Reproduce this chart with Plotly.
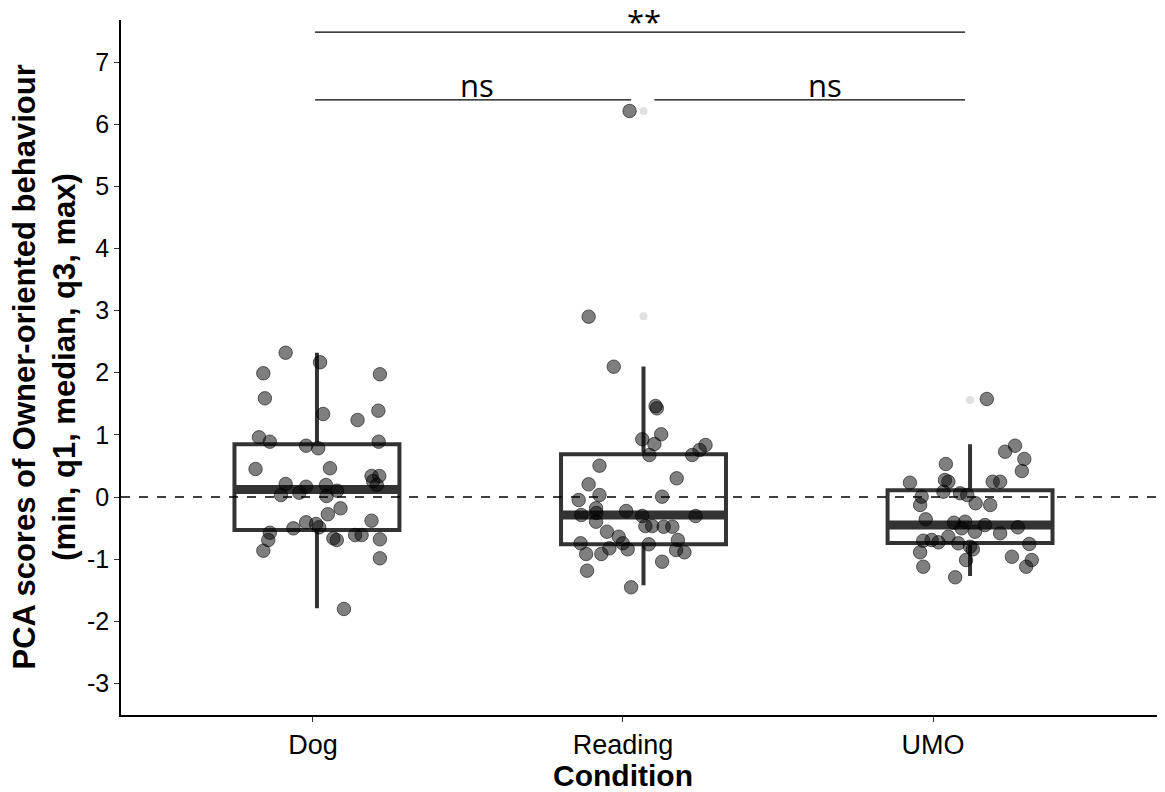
import plotly.graph_objects as go

# ---------------- data ----------------
categories = ["Dog", "Reading", "UMO"]
y_ticks = [-3, -2, -1, 0, 1, 2, 3, 4, 5, 6, 7]
y_ticktext = ["-3", "-2", "-1", "0", "1", "2", "3", "4", "5", "6", "7"]

# box statistics (min whisker, q1, median, q3, max whisker)
box_low = [-1.79, -1.42, -1.27]
box_q1 = [-0.53, -0.76, -0.74]
box_median = [0.12, -0.29, -0.45]
box_q3 = [0.85, 0.69, 0.11]
box_high = [2.32, 2.10, 0.85]

# outliers (category index, value)
outlier_group = [1, 1, 2]
outlier_value = [6.21, 2.91, 1.56]

# jittered observations: values and horizontal jitter (category units)
dog_values = [2.322, 2.168, 1.991, 1.975, 1.588, 1.336, 1.389, 1.239, 0.961, 0.890,
              0.826, 0.784, 0.890, 0.451, 0.462, 0.338, 0.338, 0.193, 0.257, 0.209,
              0.166, 0.193, 0.032, 0.069, 0.016, 0.101, -0.182, -0.278, -0.407, -0.504,
              -0.488, -0.434, -0.381, -0.575, -0.692, -0.864, -0.665, -0.692, -0.612, -0.612,
              -0.681, -0.986, -1.802]
dog_jitter = [-0.101, 0.010, -0.173, 0.203, -0.168, 0.020, 0.198, 0.131, -0.187, -0.152,
              -0.035, 0.004, 0.199, -0.198, 0.042, 0.176, 0.201, 0.193, 0.181, -0.101,
              -0.035, 0.029, -0.116, -0.057, 0.031, 0.065, 0.076, 0.035, -0.035, -0.076,
              0.007, -0.003, 0.176, -0.152, -0.157, -0.173, 0.053, 0.064, 0.123, 0.144,
              0.203, 0.203, 0.087]

reading_values = [6.212, 2.902, 2.097, 1.427, 1.464, 0.929, 1.009, 0.853, 0.676, 0.676,
                  0.756, 0.837, 0.504, 0.301, 0.204, 0.032, -0.048, 0.005, -0.182, -0.290,
                  -0.257, -0.225, -0.306, -0.306, -0.397, -0.467, -0.467, -0.478, -0.478, -0.558,
                  -0.639, -0.745, -0.745, -0.761, -0.692, -0.917, -0.917, -0.826, -0.842, -0.853,
                  -0.890, -1.041, -1.186, -1.453]
reading_jitter = [-0.045, -0.177, -0.096, 0.043, 0.039, -0.004, 0.057, 0.035, 0.019, 0.157,
                  0.181, 0.200, -0.142, 0.107, -0.177, -0.142, -0.209, 0.060, -0.153, -0.201,
                  -0.152, -0.056, -0.004, 0.168, -0.153, 0.006, 0.028, 0.065, 0.093, -0.118,
                  -0.080, -0.067, -0.203, 0.017, 0.111, -0.185, -0.136, -0.110, -0.051, 0.105,
                  0.132, 0.060, -0.182, -0.040]

umo_values = [1.577, 0.729, 0.826, 0.612, 0.418, 0.531, 0.230, 0.274, 0.246, 0.246,
              0.246, 0.005, 0.085, 0.060, 0.032, -0.129, -0.101, -0.129, -0.359, -0.414,
              -0.397, -0.451, -0.488, -0.584, -0.558, -0.504, -0.639, -0.703, -0.692, -0.729,
              -0.745, -0.800, -0.842, -0.756, -0.890, -1.014, -0.961, -1.014, -1.122, -1.122,
              -1.292]
umo_jitter = [0.054, 0.113, 0.145, 0.175, 0.167, -0.078, -0.194, -0.081, -0.070, 0.073,
              0.097, -0.156, -0.086, -0.032, -0.009, -0.161, 0.018, 0.065, -0.143, -0.052,
              -0.016, 0.048, 0.154, 0.097, 0.016, -0.027, -0.070, -0.151, -0.124, -0.102,
              -0.038, 0.000, 0.009, 0.191, -0.161, -0.013, 0.135, 0.199, 0.181, -0.151,
              -0.048]

# significance comparisons
sig_from = [0, 1, 0]
sig_to = [1, 2, 2]
sig_label = ["ns", "ns", "**"]
sig_level = [6.39, 6.39, 7.48]
sig_label_x = [1.529, 2.652, 2.068]

# ---------------- layout constants ----------------
BOX_STEP = 1.0532   # data layer spacing relative to tick spacing
BOX_OFFSET = 0.013
BOX_WIDTH = 0.532
DARK = "#333333"

centers = [1 + BOX_OFFSET + i * BOX_STEP for i in range(len(categories))]

fig = go.Figure()

# boxes
fig.add_trace(go.Box(
    x=centers, q1=box_q1, median=box_median, q3=box_q3,
    lowerfence=box_low, upperfence=box_high,
    width=BOX_WIDTH, whiskerwidth=0, boxpoints=False,
    fillcolor="rgba(0,0,0,0)", line=dict(color=DARK, width=4),
    showlegend=False, hoverinfo="skip",
))

# thick medians
mx, my = [], []
for c, m in zip(centers, box_median):
    mx += [c - BOX_WIDTH / 2, c + BOX_WIDTH / 2, None]
    my += [m, m, None]
fig.add_trace(go.Scatter(x=mx, y=my, mode="lines",
                         line=dict(color=DARK, width=9), showlegend=False, hoverinfo="skip"))

# outliers
fig.add_trace(go.Scatter(
    x=[centers[g] for g in outlier_group], y=outlier_value, mode="markers",
    marker=dict(size=8, color="rgba(0,0,0,0.12)", line=dict(width=0)),
    showlegend=False, hoverinfo="skip"))

# jittered points
for i, (vals, jit) in enumerate([(dog_values, dog_jitter),
                                 (reading_values, reading_jitter),
                                 (umo_values, umo_jitter)]):
    fig.add_trace(go.Scatter(
        x=[centers[i] + j for j in jit], y=vals, mode="markers",
        marker=dict(size=13.5, color="rgba(0,0,0,0.5)",
                    line=dict(width=1, color="rgba(0,0,0,0.55)")),
        showlegend=False, hoverinfo="skip"))

# reference line at 0
fig.add_shape(type="line", xref="paper", x0=0, x1=1, yref="y", y0=0, y1=0,
              line=dict(color="black", width=1.5, dash="dash"))

# significance brackets
for f, t, lab, lev, lx in zip(sig_from, sig_to, sig_label, sig_level, sig_label_x):
    x0 = centers[f] - 0.006
    x1 = centers[t] - 0.016
    if lab == "ns" and f == 1:
        x0 = centers[f] + 0.035
    if lab == "ns" and t == 1:
        x1 = centers[t] - 0.04
    fig.add_shape(type="line", x0=x0, x1=x1, y0=lev, y1=lev,
                  line=dict(color="black", width=1.3))
    fig.add_annotation(x=lx, y=lev, text=lab, showarrow=False,
                       yanchor="bottom", yshift=(-8 if lab == "ns" else -12),
                       font=dict(family="Open Sans", size=31, color="black"))

# axis titles as annotations
fig.add_annotation(xref="paper", yref="paper", x=0, y=0.5, xshift=-77,
                   text="<b>PCA scores of Owner-oriented behaviour<br>(min, q1, median, q3, max)</b>",
                   textangle=-90, showarrow=False, xanchor="center", yanchor="middle",
                   font=dict(family="Liberation Sans", size=31, color="black"))
fig.add_annotation(xref="x", yref="paper", x=2, y=0, yshift=-60,
                   text="<b>Condition</b>", showarrow=False,
                   xanchor="center", yanchor="middle",
                   font=dict(family="Liberation Sans", size=30, color="black"))

fig.update_layout(
    width=1157, height=784,
    margin=dict(l=113, r=5, t=12, b=77),
    plot_bgcolor="white", paper_bgcolor="white",
    showlegend=False,
)
fig.update_xaxes(
    range=[0.381, 3.732], tickvals=[1, 2, 3], ticktext=categories,
    showgrid=False, zeroline=False, showline=True, linecolor="black", linewidth=1.5,
    ticks="outside", ticklen=5, tickcolor="#333333", tickwidth=1.2,
    tickfont=dict(family="Liberation Sans", size=27, color="black"),
)
fig.update_yaxes(
    range=[-3.508, 7.676], tickvals=y_ticks, ticktext=y_ticktext,
    showgrid=False, zeroline=False, showline=True, linecolor="black", linewidth=1.5,
    ticks="outside", ticklen=5, tickcolor="#333333", tickwidth=1.2,
    tickfont=dict(family="Liberation Sans", size=25, color="black"),
)

fig.write_html("out.html")
